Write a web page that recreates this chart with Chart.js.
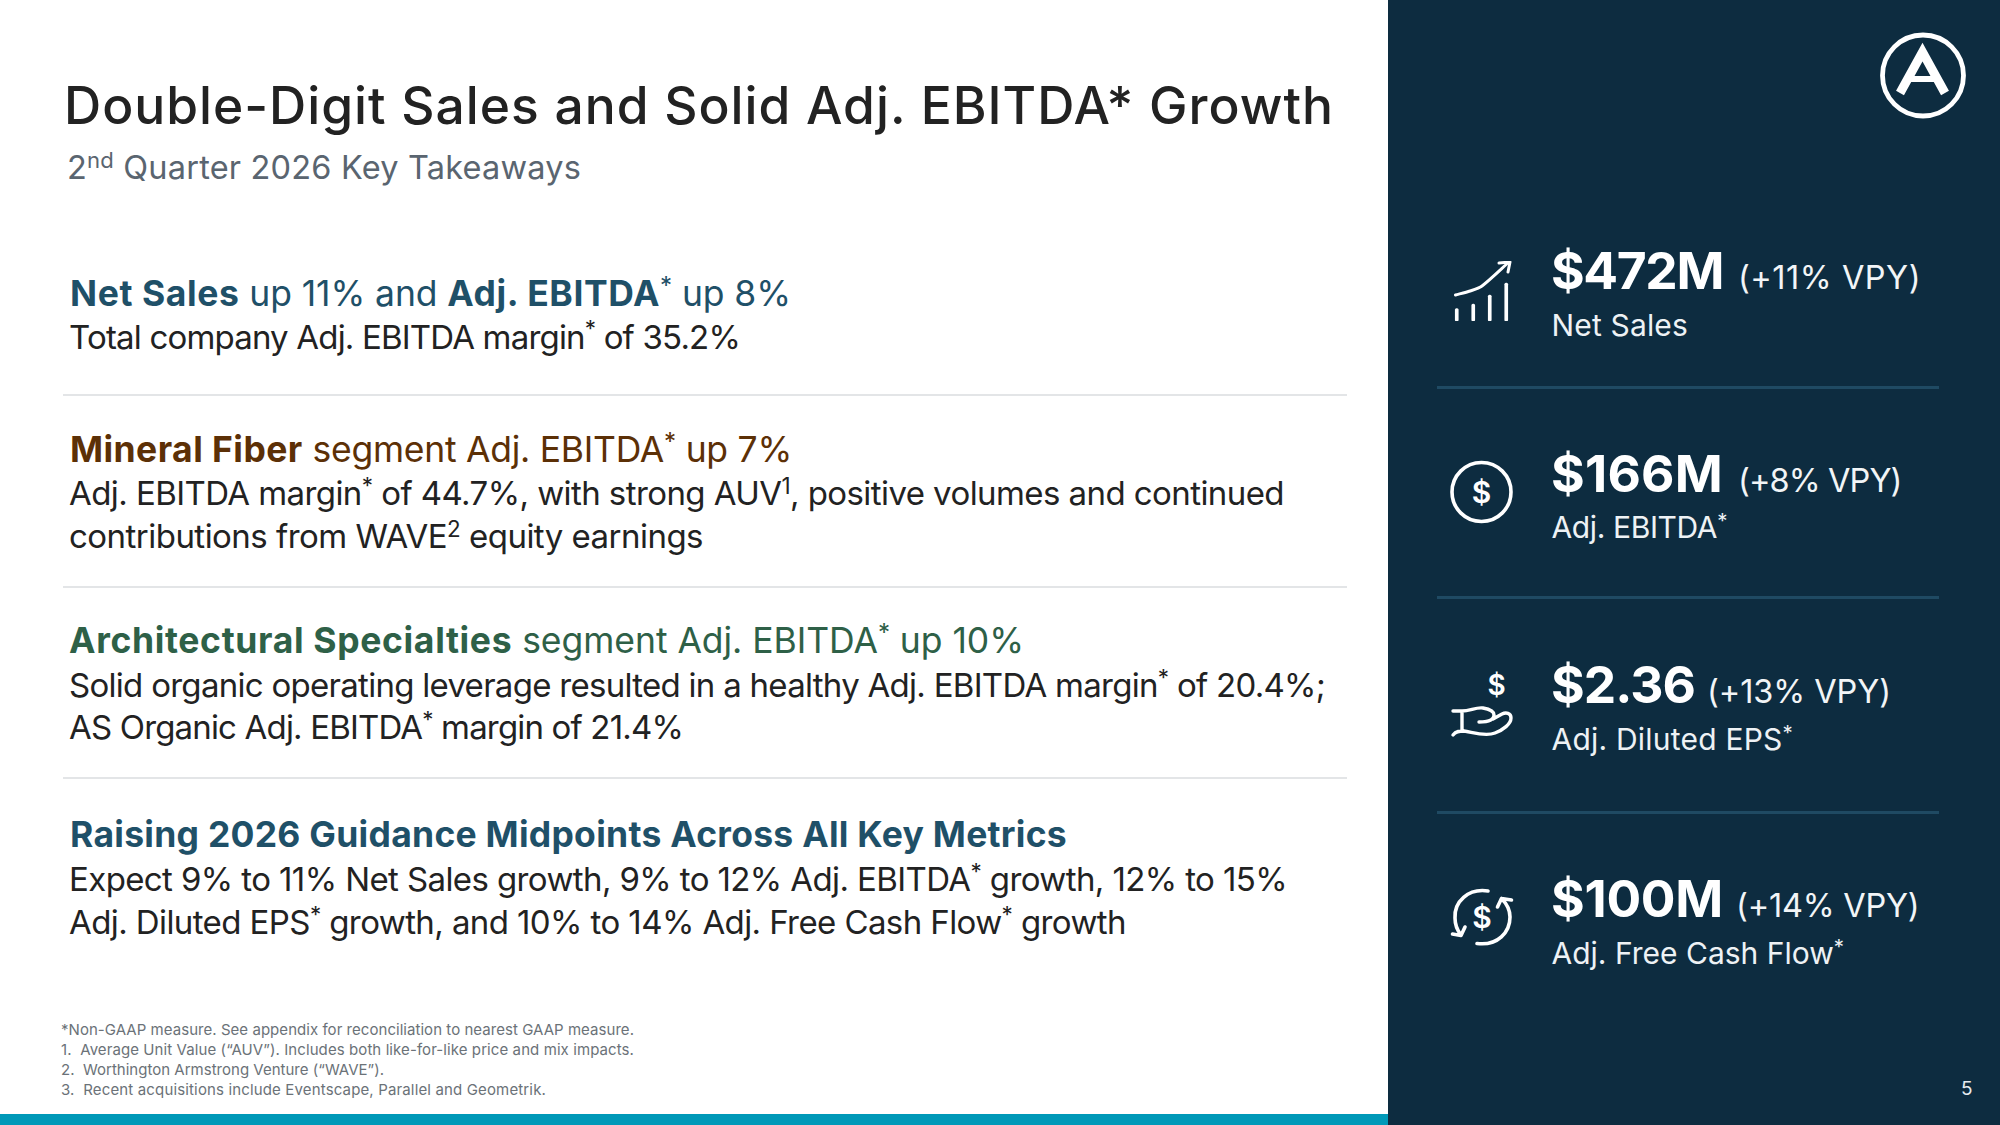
<!DOCTYPE html>
<html><head><meta charset="utf-8">
<script src="https://cdn.jsdelivr.net/npm/chart.js@4"></script>
<style>
html,body{margin:0;padding:0;background:#fff;width:2000px;height:1125px;overflow:hidden}
body{font-family:Inter,"Noto Sans",sans-serif;position:relative}
#panel{position:absolute;left:1388px;top:0;width:612px;height:1125px;background:#0d2c40}
#strip{position:absolute;left:0;top:1114px;width:1388px;height:11px;background:#0099b8}
.rule{position:absolute;height:2px}
.t{position:absolute;white-space:pre;line-height:1.2}
.t sup{font-size:.68em;line-height:0;vertical-align:baseline;position:relative;top:-.5em;font-weight:400}
.title{font-size:51.5px;font-weight:550;color:#222}
.sub{font-size:32.5px;color:#5a6570}
.h{font-size:35.5px;font-weight:400}
.h b{font-weight:700;letter-spacing:calc(var(--ls,0px) + .7px)}
.nv{color:#1f5068}.br{color:#5c3006}.gr{color:#2e6047}
.b{font-size:33px;color:#222;font-weight:400}
.fn{font-size:15px;color:#6b7278}
.kv{font-size:51.5px;font-weight:700;color:#fff}
.kc{font-size:32.5px;color:#f2f5f7}
.kl{font-size:30px;color:#eef2f5}
.pg{font-size:19px;color:#e6ebef}
svg{position:absolute;left:0;top:0}
canvas#trend{position:absolute;left:1440px;top:255px}
</style></head><body>
<script>
const kpiValues=['$472M','$166M','$2.36','$100M'];
const kpiChanges=['(+11% VPY)','(+8% VPY)','(+13% VPY)','(+14% VPY)'];
const kpiLabels=['Net Sales','Adj. EBITDA<sup>*</sup>','Adj. Diluted EPS<sup>*</sup>','Adj. Free Cash Flow<sup>*</sup>'];
const trendCategories=['a','b','c','d'];
const trendBars=[12.5,17,26,38];
const trendLineX=[5.5,20,32,59];
const trendLineY=[26,30,35,59];
const arrowX=[49,60,58];
const arrowY=[58,59,49];
</script>
<div id="panel"></div><div id="strip"></div>
<div class="rule" style="left:63px;width:1284px;top:394px;background:#e3e5e7"></div>
<div class="rule" style="left:63px;width:1284px;top:586px;background:#e3e5e7"></div>
<div class="rule" style="left:63px;width:1284px;top:777px;background:#e3e5e7"></div>
<div class="rule" style="left:1437px;width:502px;top:386px;height:3px;background:#1f4a63"></div>
<div class="rule" style="left:1437px;width:502px;top:596px;height:3px;background:#1f4a63"></div>
<div class="rule" style="left:1437px;width:502px;top:811px;height:3px;background:#1f4a63"></div>

<div class="t title" data-x="64" data-b="124" data-r="1334">Double-Digit Sales and Solid Adj. EBITDA* Growth</div>
<div class="t sub" data-x="67" data-b="179" data-r="581">2<sup>nd</sup> Quarter 2026 Key Takeaways</div>

<div class="t h nv" data-x="70" data-b="306" data-r="791"><b>Net Sales</b> up 11% and <b>Adj. EBITDA</b><sup>*</sup> up 8%</div>
<div class="t b" data-x="69" data-b="348.5" data-r="740">Total company Adj. EBITDA margin<sup>*</sup> of 35.2%</div>

<div class="t h br" data-x="70" data-b="462" data-r="792"><b>Mineral Fiber</b> segment Adj. EBITDA<sup>*</sup> up 7%</div>
<div class="t b" data-x="69" data-b="505" data-r="1284">Adj. EBITDA margin<sup>*</sup> of 44.7%, with strong AUV<sup>1</sup>, positive volumes and continued</div>
<div class="t b" data-x="69" data-b="548" data-r="703">contributions from WAVE<sup>2</sup> equity earnings</div>

<div class="t h gr" data-x="69" data-b="653" data-r="1024"><b>Architectural Specialties</b> segment Adj. EBITDA<sup>*</sup> up 10%</div>
<div class="t b" data-x="69" data-b="697" data-r="1325">Solid organic operating leverage resulted in a healthy Adj. EBITDA margin<sup>*</sup> of 20.4%;</div>
<div class="t b" data-x="69" data-b="739" data-r="683">AS Organic Adj. EBITDA<sup>*</sup> margin of 21.4%</div>

<div class="t h nv" data-x="70" data-b="847" data-r="1067"><b>Raising 2026 Guidance Midpoints Across All Key Metrics</b></div>
<div class="t b" data-x="69" data-b="891" data-r="1287">Expect 9% to 11% Net Sales growth, 9% to 12% Adj. EBITDA<sup>*</sup> growth, 12% to 15%</div>
<div class="t b" data-x="69" data-b="934" data-r="1126">Adj. Diluted EPS<sup>*</sup> growth, and 10% to 14% Adj. Free Cash Flow<sup>*</sup> growth</div>

<div class="t fn" data-x="61" data-b="1035" data-r="634">*Non-GAAP measure. See appendix for reconciliation to nearest GAAP measure.</div>
<div class="t fn" data-x="61" data-b="1055" data-r="634">1.  Average Unit Value (“AUV”). Includes both like-for-like price and mix impacts.</div>
<div class="t fn" data-x="61" data-b="1075" data-r="384">2.  Worthington Armstrong Venture (“WAVE”).</div>
<div class="t fn" data-x="61" data-b="1095" data-r="546">3.  Recent acquisitions include Eventscape, Parallel and Geometrik.</div>
<div class="t pg" data-x="1961" data-b="1095" data-r="1975">5</div>

<svg width="2000" height="1125" viewBox="0 0 2000 1125" fill="none" stroke="#fff" stroke-linecap="round" stroke-linejoin="round">
  <circle cx="1923" cy="75.5" r="40.5" stroke-width="4.8"/>
  <path d="M1900 93 L1922.5 52 L1945 93" stroke-width="9" stroke-linecap="butt" stroke-linejoin="miter"/>
  <path d="M1909 79 H1936" stroke-width="6" stroke-linecap="butt"/>
  <circle cx="1481.5" cy="492" r="29.5" stroke-width="3.6"/>
  <path d="M1453 711 H1462 C1470 711 1476 707 1483 708 C1489 709 1494 711 1494 715 C1494 720 1488 722 1479 722 M1462 711 V731 M1453 735 C1456 731 1460 731 1464 731 C1472 732 1485 737 1495 733 C1503 730 1511 724 1511 718 C1511 713 1506 712 1502 714 L1493 719" stroke-width="3.4"/>
  <path d="M1488 891 C1468 888 1454 902 1455 918 C1455 924 1457 930 1461 935 M1452.5 934 L1461 935.5 L1465 927" stroke-width="3.6"/>
  <path d="M1477 943.5 C1498 946 1510 932 1510 917 C1510 910 1506 903 1501.5 898.5 M1497.5 907 L1501.5 898.5 L1511.5 900" stroke-width="3.6"/>
  <g fill="#fff" stroke="none" font-family="Inter, sans-serif" font-weight="600" text-anchor="middle">
    <text x="1481.5" y="503" font-size="30">$</text>
    <text x="1496.5" y="695" font-size="28">$</text>
    <text x="1482" y="928" font-size="30">$</text>
  </g>
</svg>
<canvas id="trend" width="86" height="75" style="width:86px;height:75px" role="img" aria-label="Rising trend icon"></canvas>

<script>
const kvY=[289,492,703,917], klY=[336,538,750,964];
const kvR=[1723,1723,1695,1723], kcX=[1738,1738,1707,1736], kcR=[1921,1901.5,1891,1919.5], klR=[1688,1727,1793,1844];
kpiValues.forEach((v,i)=>{
  const add=(cls,html,x,b,r)=>{const d=document.createElement('div');d.className='t '+cls;d.innerHTML=html;d.dataset.x=x;d.dataset.b=b;d.dataset.r=r;document.body.appendChild(d);};
  add('kv',v,1551,kvY[i],kvR[i]);
  add('kc',kpiChanges[i],kcX[i],kvY[i],kcR[i]);
  add('kl',kpiLabels[i],1551.5,klY[i],klR[i]);
});
document.querySelectorAll('.t').forEach(el=>{
  const x=+el.dataset.x,b=+el.dataset.b,r=+el.dataset.r;
  el.style.left=x+'px';el.style.top='0px';
  const strut=document.createElement('span');
  strut.style.cssText='display:inline-block;width:0;height:0';
  el.appendChild(strut);
  const base=strut.getBoundingClientRect().bottom;
  el.style.top=(b-base)+'px';
  const w=el.getBoundingClientRect().width;
  const n=el.textContent.length;
  const ls=((r-x-w)/n)+'px';
  el.style.letterSpacing=ls;
  el.style.setProperty('--ls',ls);
});
new Chart(document.getElementById('trend'),{
  data:{labels:trendCategories,datasets:[
    {type:'bar',data:trendBars,backgroundColor:'#fff',barThickness:3,borderRadius:1.5,borderSkipped:false,xAxisID:'x',yAxisID:'y'},
    {type:'line',data:trendLineX.map((v,i)=>({x:v,y:trendLineY[i]})),borderColor:'#fff',borderWidth:3,pointRadius:0,tension:.25,borderCapStyle:'round',xAxisID:'x2',yAxisID:'y'},
    {type:'line',data:arrowX.map((v,i)=>({x:v,y:arrowY[i]})),borderColor:'#fff',borderWidth:3,pointRadius:0,tension:0,borderCapStyle:'round',borderJoinStyle:'round',xAxisID:'x2',yAxisID:'y'}
  ]},
  options:{responsive:false,animation:false,
    layout:{padding:{left:10,right:10,top:6,bottom:9}},
    plugins:{legend:{display:false},tooltip:{enabled:false}},
    scales:{
      x:{display:false,type:'category',offset:true},
      x2:{display:false,type:'linear',min:0,max:66},
      y:{display:false,min:0,max:60}
    }}
});
</script>
</body></html>
